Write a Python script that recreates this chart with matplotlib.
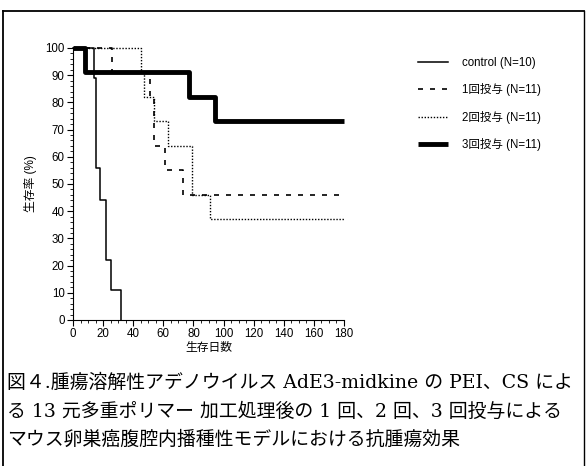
import matplotlib.pyplot as plt
from matplotlib.lines import Line2D
from matplotlib.ticker import MultipleLocator

plt.rcParams['font.family'] = ['Liberation Sans', 'Noto Sans CJK JP']

# Kaplan-Meier steps (day, survival %)
control_days = [0, 14, 15, 18, 22, 25, 32]
control_surv = [100, 89, 56, 44, 22, 11, 0]

dose1_days = [0, 26, 51, 54, 61, 73, 180]
dose1_surv = [100, 91, 82, 64, 55, 46, 46]

dose2_days = [0, 45, 47, 54, 63, 79, 91, 180]
dose2_surv = [100, 91, 82, 73, 64, 46, 37, 37]

dose3_days = [0, 8, 77, 94, 180]
dose3_surv = [100, 91, 82, 73, 73]

labels = ['control (N=10)', '1回投与 (N=11)', '2回投与 (N=11)', '3回投与 (N=11)']

caption = [
    '図４.腫瘍溶解性アデノウイルス AdE3-midkine の PEI、CS によ',
    'る 13 元多重ポリマー 加工処理後の 1 回、2 回、3 回投与による',
    'マウス卵巣癌腹腔内播種性モデルにおける抗腫瘍効果',
]

fig = plt.figure(figsize=(5.87, 4.66), dpi=100)
ax = fig.add_axes([73 / 587, 1 - 320 / 466, 271 / 587, 272 / 466])

ax.step(control_days, control_surv, where='post', color='black', lw=1.1,
        label=labels[0], clip_on=False)
ax.step(dose1_days, dose1_surv, where='post', color='black', lw=1.2,
        dashes=(3, 4.2), label=labels[1], clip_on=False)
ax.step(dose2_days, dose2_surv, where='post', color='black', lw=1.0,
        dashes=(1, 1.2), label=labels[2], clip_on=False)
ax.step(dose3_days, dose3_surv, where='post', color='black', lw=3.5,
        label=labels[3], clip_on=False, solid_capstyle='butt')

ax.set_xlim(0, 180)
ax.set_ylim(0, 100)
ax.xaxis.set_major_locator(MultipleLocator(20))
ax.xaxis.set_minor_locator(MultipleLocator(5))
ax.yaxis.set_major_locator(MultipleLocator(10))
ax.yaxis.set_minor_locator(MultipleLocator(2))
ax.tick_params(which='major', length=4, width=0.8, labelsize=8.3, pad=2)
ax.tick_params(which='minor', length=2, width=0.6)
for s in ['top', 'right']:
    ax.spines[s].set_visible(False)

ax.set_xlabel('生存日数', fontsize=8.5, labelpad=1)
ax.set_ylabel('生存率 (%)', fontsize=8.5, labelpad=6)

fig.legend(loc='upper left', bbox_to_anchor=(418 / 587, 1 - 57 / 466),
           frameon=False, fontsize=8.3, handlelength=2.6, handletextpad=1.2,
           labelspacing=1.25, borderpad=0, borderaxespad=0)

for i, line in enumerate(caption):
    fig.text(7 / 587, 1 - (383 + i * 28.5) / 466, line, fontsize=13.6,
             va='center', ha='left', family=['DejaVu Serif', 'Noto Sans CJK JP'])

# outer frame (open at the bottom)
fig.add_artist(Line2D([3 / 587, 3 / 587], [0, 1 - 11 / 466], color='black', lw=1.3))
fig.add_artist(Line2D([3 / 587, 584 / 587], [1 - 11 / 466, 1 - 11 / 466], color='black', lw=1.3))
fig.add_artist(Line2D([584 / 587, 584 / 587], [0, 1 - 11 / 466], color='black', lw=1.0))

fig.savefig('out.png', dpi=100)
